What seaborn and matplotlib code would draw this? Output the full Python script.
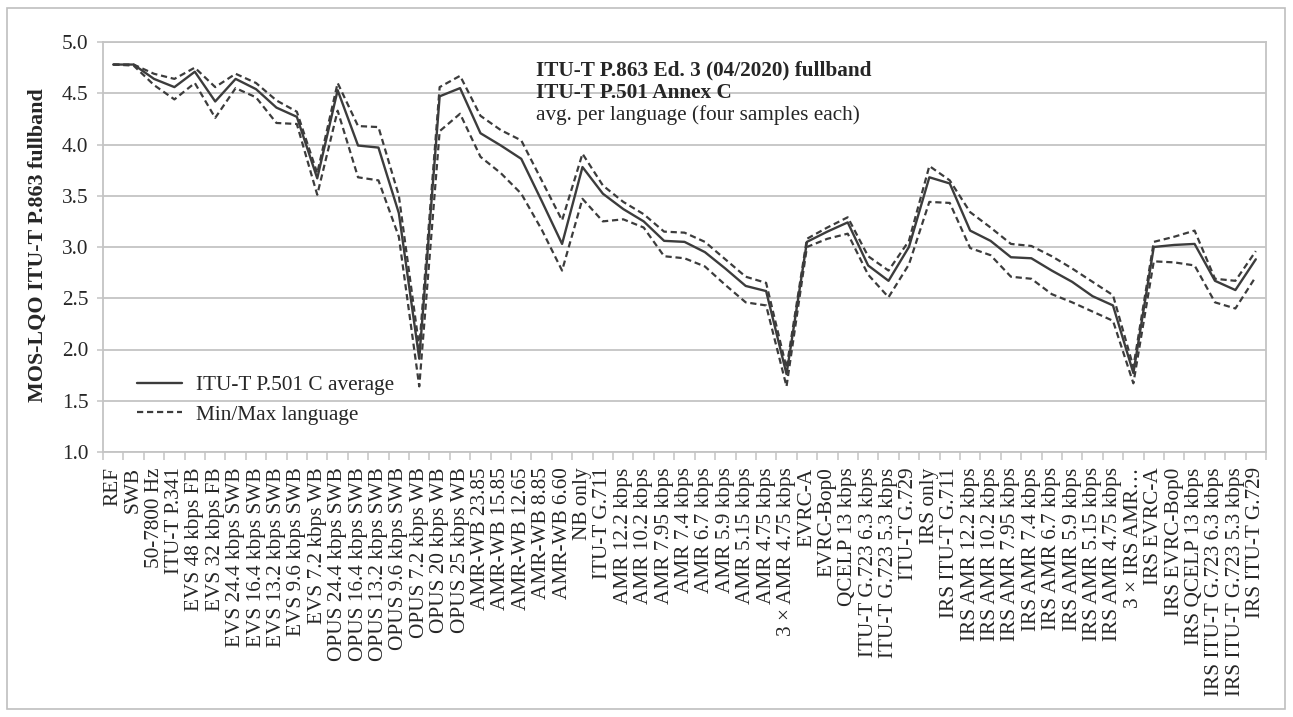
import numpy as np
import pandas as pd
import matplotlib
matplotlib.use("Agg")
import matplotlib.pyplot as plt
from matplotlib.patches import Rectangle
from matplotlib.lines import Line2D
import seaborn as sns

conditions = [
    "REF", "SWB", "50-7800 Hz", "ITU-T P.341", "EVS 48 kbps FB", "EVS 32 kbps FB",
    "EVS 24.4 kbps SWB", "EVS 16.4 kbps SWB", "EVS 13.2 kbps SWB", "EVS 9.6 kbps SWB",
    "EVS 7.2 kbps WB", "OPUS 24.4 kbps SWB", "OPUS 16.4 kbps SWB", "OPUS 13.2 kbps SWB",
    "OPUS 9.6 kbps SWB", "OPUS 7.2 kbps WB", "OPUS 20 kbps WB", "OPUS 25 kbps WB",
    "AMR-WB 23.85", "AMR-WB 15.85", "AMR-WB 12.65", "AMR-WB 8.85", "AMR-WB 6.60",
    "NB only", "ITU-T G.711", "AMR 12.2 kbps", "AMR 10.2 kbps", "AMR 7.95 kbps",
    "AMR 7.4 kbps", "AMR 6.7 kbps", "AMR 5.9 kbps", "AMR 5.15 kbps", "AMR 4.75 kbps",
    "3 × AMR 4.75 kbps", "EVRC-A", "EVRC-Bop0", "QCELP 13 kbps", "ITU-T G.723 6.3 kbps",
    "ITU-T G.723 5.3 kbps", "ITU-T G.729", "IRS only", "IRS ITU-T G.711",
    "IRS AMR 12.2 kbps", "IRS AMR 10.2 kbps", "IRS AMR 7.95 kbps", "IRS AMR 7.4 kbps",
    "IRS AMR 6.7 kbps", "IRS AMR 5.9 kbps", "IRS AMR 5.15 kbps", "IRS AMR 4.75 kbps",
    "3 × IRS AMR…", "IRS EVRC-A", "IRS EVRC-Bop0", "IRS QCELP 13 kbps",
    "IRS ITU-T G.723 6.3 kbps", "IRS ITU-T G.723 5.3 kbps", "IRS ITU-T G.729",
]

avg_score = [
    4.78, 4.78, 4.64, 4.56, 4.71, 4.42, 4.64, 4.54, 4.36, 4.27,
    3.67, 4.53, 3.99, 3.97, 3.33, 1.91, 4.47, 4.55, 4.11, 3.99,
    3.86, 3.45, 3.03, 3.78, 3.52, 3.37, 3.25, 3.06, 3.05, 2.95,
    2.79, 2.62, 2.57, 1.76, 3.05, 3.15, 3.24, 2.82, 2.67, 3.00,
    3.68, 3.62, 3.16, 3.06, 2.90, 2.89, 2.77, 2.66, 2.52, 2.43,
    1.77, 3.00, 3.02, 3.03, 2.67, 2.58, 2.88,
]
max_score = [
    4.78, 4.78, 4.69, 4.64, 4.75, 4.56, 4.69, 4.60, 4.43, 4.32,
    3.72, 4.60, 4.18, 4.17, 3.50, 2.02, 4.56, 4.67, 4.28, 4.14,
    4.04, 3.65, 3.26, 3.91, 3.60, 3.44, 3.32, 3.15, 3.14, 3.05,
    2.88, 2.71, 2.65, 1.82, 3.08, 3.19, 3.29, 2.91, 2.77, 3.06,
    3.79, 3.65, 3.34, 3.19, 3.03, 3.01, 2.91, 2.79, 2.66, 2.53,
    1.83, 3.05, 3.10, 3.16, 2.69, 2.67, 2.96,
]
min_score = [
    4.78, 4.77, 4.58, 4.44, 4.60, 4.26, 4.55, 4.46, 4.21, 4.20,
    3.51, 4.33, 3.68, 3.65, 3.10, 1.64, 4.13, 4.30, 3.88, 3.72,
    3.52, 3.17, 2.77, 3.47, 3.25, 3.27, 3.19, 2.91, 2.89, 2.81,
    2.63, 2.46, 2.43, 1.64, 3.00, 3.08, 3.13, 2.73, 2.51, 2.83,
    3.44, 3.43, 2.99, 2.92, 2.71, 2.69, 2.54, 2.46, 2.37, 2.28,
    1.67, 2.86, 2.85, 2.82, 2.46, 2.40, 2.71,
]

title_lines = [
    ("ITU-T P.863 Ed. 3 (04/2020) fullband", "bold"),
    ("ITU-T P.501 Annex C", "bold"),
    ("avg. per language (four samples each)", "normal"),
]

sns.set_style("white")
plt.rcParams["font.family"] = ["Liberation Serif", "DejaVu Serif"]

W, H = 1293, 717
fig = plt.figure(figsize=(W / 100, H / 100), dpi=100)
fig.patch.set_facecolor("white")

# plot area in pixel coordinates
left, right, top, bottom = 103, 1266, 42, 452
ax = fig.add_axes([left / W, 1 - bottom / H, (right - left) / W, (bottom - top) / H])

pos = np.arange(len(conditions))
df = pd.DataFrame({"pos": pos, "avg": avg_score, "max": max_score, "min": min_score})

line_color = "#3c3c3c"
grid_color = "#c4c4c4"
fs = 15.3

sns.lineplot(data=df, x="pos", y="avg", ax=ax, color=line_color, linewidth=1.7)
sns.lineplot(data=df, x="pos", y="max", ax=ax, color=line_color, linewidth=1.6)
sns.lineplot(data=df, x="pos", y="min", ax=ax, color=line_color, linewidth=1.6)
for ln in ax.lines[1:3]:
    ln.set_dashes([2.8, 1.7])

ax.set_xlim(-0.5, len(conditions) - 0.5)
ax.set_ylim(1.0, 5.0)
ax.set_yticks(np.arange(1.0, 5.01, 0.5))
ax.set_yticklabels([f"{v:.1f}" for v in np.arange(1.0, 5.01, 0.5)])
ax.yaxis.grid(True, color=grid_color, linewidth=1.3)
ax.xaxis.grid(False)
ax.set_axisbelow(True)

ax.set_xticks(pos)
ax.set_xticklabels(conditions, rotation=90, fontsize=fs)
ax.set_xticks(np.arange(-0.5, len(conditions)), minor=True)
ax.tick_params(axis="x", which="major", length=0, pad=11)
ax.tick_params(axis="x", which="minor", length=6, width=1.1, color=grid_color, direction="out", bottom=True)
ax.tick_params(axis="y", which="major", length=4.5, width=1.1, color=grid_color, direction="out",
               labelsize=fs, pad=6, left=True)

for s in ax.spines.values():
    s.set_color(grid_color)
    s.set_linewidth(1.3)

ax.set_xlabel("")
ax.set_ylabel("MOS-LQO ITU-T P.863 fullband", fontsize=15.8, fontweight="bold", va="center")
ax.yaxis.set_label_coords((38 - left) / (right - left), (bottom - 245) / (bottom - top))

handles = [
    Line2D([], [], color=line_color, linewidth=1.7),
    Line2D([], [], color=line_color, linewidth=1.6, dashes=[2.8, 1.7]),
]
fig.legend(handles, ["ITU-T P.501 C average", "Min/Max language"],
           loc="center left", bbox_to_anchor=(137 / W, 1 - 400 / H),
           bbox_transform=fig.transFigure, frameon=False, fontsize=fs,
           handlelength=2.1, handletextpad=0.7, labelspacing=0.45,
           borderpad=0, borderaxespad=0)

for (txt, weight), yc in zip(title_lines, [70, 93, 115]):
    fig.text(536 / W, 1 - yc / H, txt, ha="left", va="center", fontsize=fs, fontweight=weight)

# chart frame
fig.patches.append(Rectangle((7 / W, 8 / H), (1285 - 7) / W, (709 - 8) / H,
                             transform=fig.transFigure, fill=False,
                             edgecolor="#bfbfbf", linewidth=1.2))

fig.savefig("out.png", dpi=100, facecolor="white")
